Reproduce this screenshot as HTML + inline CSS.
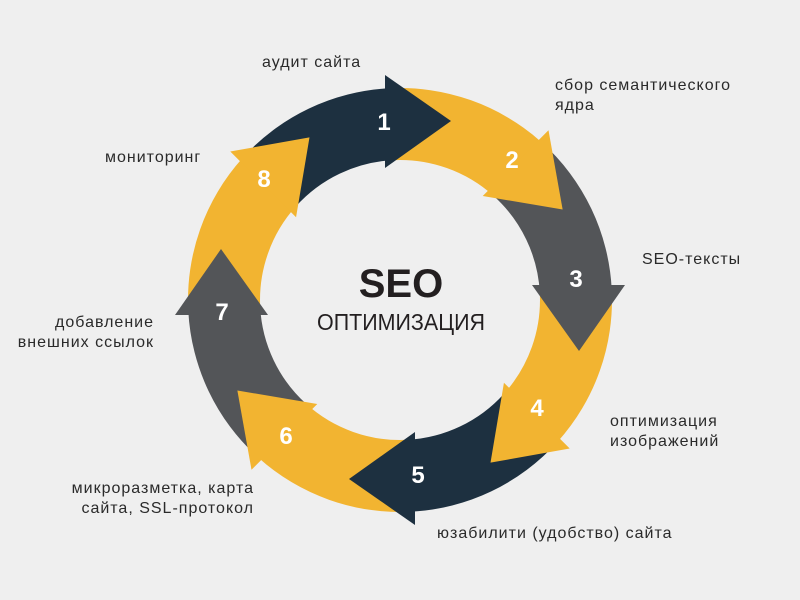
<!DOCTYPE html>
<html><head><meta charset="utf-8"><style>
html,body{margin:0;padding:0;background:#efefef;}
body{width:800px;height:600px;overflow:hidden;position:relative;font-family:"Liberation Sans","DejaVu Sans",sans-serif;}
.l{position:absolute;font-size:16px;letter-spacing:1px;color:#2a2a2a;line-height:20px;white-space:nowrap;}
</style></head><body>
<svg width="800" height="600" style="position:absolute;left:0;top:0">
<defs>
<path id="b" d="M242.5,158.1 A212,212 0 0 1 388.9,88.3 L392.7,160.2 A140,140 0 0 0 296,206.3 Z"/>
<path id="h" d="M385,75 L451,121 L385,168 Z"/>
</defs>
<g>
<use href="#b" fill="#1d3040"/>
<use href="#b" fill="#f2b431" transform="rotate(45 400 300)"/>
<use href="#b" fill="#535558" transform="rotate(90 400 300)"/>
<use href="#b" fill="#f2b431" transform="rotate(135 400 300)"/>
<use href="#b" fill="#1d3040" transform="rotate(180 400 300)"/>
<use href="#b" fill="#f2b431" transform="rotate(225 400 300)"/>
<use href="#b" fill="#535558" transform="rotate(270 400 300)"/>
<use href="#b" fill="#f2b431" transform="rotate(315 400 300)"/>
<use href="#h" fill="#1d3040"/>
<use href="#h" fill="#f2b431" transform="rotate(45 400 300)"/>
<use href="#h" fill="#535558" transform="rotate(90 400 300)"/>
<use href="#h" fill="#f2b431" transform="rotate(135 400 300)"/>
<use href="#h" fill="#1d3040" transform="rotate(180 400 300)"/>
<use href="#h" fill="#f2b431" transform="rotate(225 400 300)"/>
<use href="#h" fill="#535558" transform="rotate(270 400 300)"/>
<use href="#h" fill="#f2b431" transform="rotate(315 400 300)"/>
</g>
<g font-family="Liberation Sans, sans-serif" font-weight="bold" font-size="24" fill="#fff" text-anchor="middle">
<text x="384" y="130">1</text>
<text x="512" y="168">2</text>
<text x="576" y="287">3</text>
<text x="537" y="416">4</text>
<text x="418" y="483">5</text>
<text x="286" y="444">6</text>
<text x="222" y="320">7</text>
<text x="264" y="187">8</text>
</g>
<text x="401" y="297" text-anchor="middle" font-family="Liberation Sans, sans-serif" font-weight="bold" font-size="40" fill="#231f20">SEO</text>
<text x="401" y="330" text-anchor="middle" font-family="Liberation Sans, sans-serif" font-size="23" fill="#231f20" textLength="168" lengthAdjust="spacingAndGlyphs">ОПТИМИЗАЦИЯ</text>
</svg>
<div class="l" style="left:262px;top:53px">аудит сайта</div>
<div class="l" style="left:555px;top:76px">сбор семантического<br>ядра</div>
<div class="l" style="left:105px;top:148px">мониторинг</div>
<div class="l" style="left:642px;top:250px">SEO-тексты</div>
<div class="l" style="right:646px;top:313px;text-align:right">добавление<br>внешних ссылок</div>
<div class="l" style="left:610px;top:412px">оптимизация<br>изображений</div>
<div class="l" style="right:546px;top:479px;text-align:right">микроразметка, карта<br>сайта, SSL-протокол</div>
<div class="l" style="left:437px;top:524px">юзабилити (удобство) сайта</div>
</body></html>
